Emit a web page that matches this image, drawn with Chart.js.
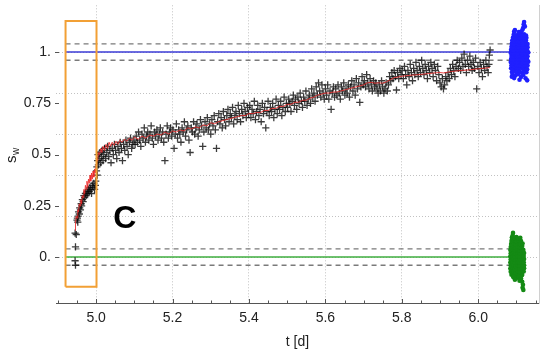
<!DOCTYPE html>
<html><head><meta charset="utf-8">
<script src="https://cdn.jsdelivr.net/npm/chart.js@4.4.1/dist/chart.umd.min.js"></script>
<style>html,body{margin:0;padding:0;background:#fff}#wrap{width:550px;height:354px}</style>
</head><body><div id="wrap"><canvas id="c" width="550" height="354"></canvas></div>
<script>
const xTicks=[5.0,5.2,5.4,5.6,5.8,6.0];
const xTickLabels=['5.0','5.2','5.4','5.6','5.8','6.0'];
const xMinorTicks=[4.9,4.95,5.05,5.1,5.15,5.25,5.3,5.35,5.45,5.5,5.55,5.65,5.7,5.75,5.85,5.9,5.95,6.05,6.1,6.15];
const yTicks=[0,0.25,0.5,0.75,1];
const yTickLabels=['0.','0.25','0.5','0.75','1.'];
const yGrid=[0,0.2,0.4,0.6,0.8,1.0];
const targetLevels=[1,0];
const bandLevels=[1.04,0.96,0.04,-0.04];
const refRange=[4.92,6.083];
const boxCorners=[[4.92,-0.145],[5.001,-0.145],[5.001,1.152],[4.92,1.152],[4.92,-0.145]];
const panelLabel='C';
const panelLabelPos=[5.075,0.143];

const blackPts=[
[4.945,0.117],[4.946,0.05],[4.945,-0.018],[4.946,-0.04],[4.948,0.11],
[4.950,0.18],[4.951,0.19],[4.952,0.17],[4.953,0.2],[4.954,0.22],[4.956,0.21],[4.957,0.24],[4.959,0.23],[4.961,0.26],[4.962,0.25],[4.964,0.28],[4.966,0.27],[4.968,0.30],[4.970,0.29],[4.972,0.31],[4.974,0.30],[4.976,0.32],[4.978,0.31],[4.980,0.33],[4.982,0.32],[4.984,0.34],[4.986,0.33],[4.988,0.31],[4.990,0.35],[4.992,0.34],[4.994,0.36],[4.996,0.33],[4.998,0.35],[4.999,0.37],
[5.001,0.42],[5.002,0.44],[5.003,0.40],[5.004,0.47],[5.005,0.50],[5.006,0.45],[5.008,0.48],[5.010,0.51],[5.012,0.46],[5.014,0.49],[5.016,0.52],[5.018,0.47],[5.020,0.50],[5.022,0.53],[5.025,0.48],[5.028,0.51],[5.030,0.54],[5.033,0.49],[5.036,0.52],[5.039,0.46],[5.042,0.53],[5.045,0.50],[5.048,0.55],[5.051,0.52],[5.054,0.48],[5.057,0.54],[5.060,0.51],[5.063,0.56],[5.066,0.53],[5.069,0.47],[5.072,0.55],[5.075,0.52],[5.078,0.57],[5.081,0.54],[5.084,0.50],[5.087,0.56],[5.090,0.58],[5.093,0.53],[5.096,0.55],[5.099,0.57],
[5.102,0.55],[5.105,0.59],[5.108,0.56],[5.111,0.61],[5.114,0.57],[5.117,0.54],[5.120,0.60],[5.123,0.58],[5.126,0.63],[5.129,0.56],[5.132,0.59],[5.135,0.61],[5.138,0.57],[5.141,0.60],[5.144,0.64],[5.147,0.58],[5.150,0.55],[5.153,0.61],[5.156,0.59],[5.159,0.62],[5.162,0.57],[5.165,0.60],[5.168,0.63],[5.171,0.58],[5.174,0.61],[5.177,0.56],[5.180,0.47],[5.183,0.60],[5.186,0.64],[5.189,0.58],[5.192,0.61],[5.195,0.63],[5.198,0.59],
[5.201,0.62],[5.204,0.53],[5.207,0.60],[5.210,0.65],[5.213,0.58],[5.216,0.62],[5.219,0.60],[5.222,0.56],[5.225,0.63],[5.228,0.61],[5.231,0.66],[5.234,0.59],[5.237,0.62],[5.240,0.64],[5.243,0.57],[5.246,0.51],[5.249,0.63],[5.252,0.61],[5.255,0.66],[5.258,0.60],[5.261,0.63],[5.264,0.65],[5.267,0.59],[5.270,0.62],[5.273,0.67],[5.276,0.64],[5.279,0.54],[5.282,0.61],[5.285,0.66],[5.288,0.63],[5.291,0.68],[5.294,0.62],[5.297,0.65],[5.300,0.60],
[5.303,0.67],[5.306,0.64],[5.309,0.69],[5.312,0.62],[5.315,0.53],[5.318,0.66],[5.321,0.70],[5.324,0.65],[5.327,0.68],[5.330,0.63],[5.333,0.71],[5.336,0.67],[5.339,0.64],[5.342,0.69],[5.345,0.72],[5.348,0.66],[5.351,0.70],[5.354,0.68],[5.357,0.73],[5.360,0.65],[5.363,0.69],[5.366,0.71],[5.369,0.67],[5.372,0.74],[5.375,0.70],[5.378,0.66],[5.381,0.72],[5.384,0.69],[5.387,0.75],[5.390,0.71],[5.393,0.68],[5.396,0.73],[5.399,0.70],
[5.402,0.74],[5.405,0.68],[5.408,0.72],[5.411,0.70],[5.414,0.76],[5.417,0.67],[5.420,0.71],[5.423,0.74],[5.426,0.69],[5.429,0.72],[5.432,0.66],[5.435,0.75],[5.438,0.70],[5.441,0.73],[5.444,0.63],[5.447,0.71],[5.450,0.76],[5.453,0.69],[5.456,0.73],[5.459,0.71],[5.462,0.75],[5.465,0.68],[5.468,0.72],[5.471,0.77],[5.474,0.70],[5.477,0.74],[5.480,0.72],[5.483,0.76],[5.486,0.69],[5.489,0.73],[5.492,0.78],[5.495,0.71],[5.498,0.75],
[5.501,0.73],[5.504,0.77],[5.507,0.75],[5.510,0.71],[5.513,0.76],[5.516,0.79],[5.519,0.74],[5.522,0.77],[5.525,0.72],[5.528,0.78],[5.531,0.75],[5.534,0.80],[5.537,0.76],[5.540,0.73],[5.543,0.78],[5.546,0.76],[5.549,0.81],[5.552,0.74],[5.555,0.77],[5.558,0.79],[5.561,0.75],[5.564,0.82],[5.567,0.78],[5.570,0.80],[5.573,0.76],[5.576,0.83],[5.579,0.79],[5.582,0.85],[5.585,0.81],[5.588,0.78],[5.591,0.84],[5.594,0.80],[5.597,0.77],
[5.600,0.82],[5.603,0.79],[5.606,0.84],[5.609,0.77],[5.612,0.81],[5.615,0.72],[5.618,0.80],[5.621,0.83],[5.624,0.78],[5.627,0.82],[5.630,0.79],[5.633,0.84],[5.636,0.80],[5.639,0.77],[5.642,0.83],[5.645,0.81],[5.648,0.85],[5.651,0.79],[5.654,0.82],[5.657,0.80],[5.660,0.84],[5.663,0.78],[5.666,0.83],[5.669,0.86],[5.672,0.81],[5.675,0.84],[5.678,0.79],[5.681,0.87],[5.684,0.82],[5.687,0.85],[5.690,0.755],[5.693,0.83],[5.696,0.88],[5.699,0.84],
[5.702,0.86],[5.705,0.83],[5.708,0.89],[5.711,0.85],[5.714,0.82],[5.717,0.87],[5.720,0.84],[5.723,0.81],[5.726,0.86],[5.729,0.83],[5.732,0.85],[5.735,0.82],[5.738,0.80],[5.741,0.84],[5.744,0.81],[5.747,0.86],[5.750,0.83],[5.753,0.80],[5.756,0.82],[5.759,0.85],[5.762,0.81],[5.765,0.84],[5.768,0.88],[5.771,0.86],[5.774,0.90],[5.777,0.87],[5.780,0.91],[5.783,0.88],[5.786,0.815],[5.789,0.90],[5.792,0.87],[5.795,0.92],[5.798,0.89],
[5.801,0.91],[5.804,0.87],[5.807,0.93],[5.810,0.89],[5.813,0.84],[5.816,0.91],[5.819,0.88],[5.822,0.94],[5.825,0.90],[5.828,0.86],[5.831,0.92],[5.834,0.89],[5.837,0.95],[5.840,0.91],[5.843,0.88],[5.846,0.93],[5.849,0.90],[5.852,0.96],[5.855,0.92],[5.858,0.89],[5.861,0.94],[5.864,0.91],[5.867,0.87],[5.870,0.93],[5.873,0.90],[5.876,0.95],[5.879,0.92],[5.882,0.88],[5.885,0.94],[5.888,0.91],[5.891,0.86],[5.894,0.93],[5.897,0.89],
[5.900,0.85],[5.903,0.83],[5.906,0.87],[5.909,0.82],[5.912,0.84],[5.915,0.88],[5.918,0.86],[5.921,0.90],[5.924,0.87],[5.927,0.92],[5.930,0.89],[5.933,0.94],[5.936,0.91],[5.939,0.88],[5.942,0.93],[5.945,0.96],[5.948,0.92],
[5.951,0.95],[5.954,0.91],[5.957,0.97],[5.960,0.93],[5.963,0.99],[5.966,0.94],[5.969,0.90],[5.972,0.96],[5.975,0.93],[5.978,0.98],[5.981,0.94],[5.984,0.91],[5.987,0.95],[5.990,0.92],[5.993,0.97],[5.996,0.82],[5.999,0.93],[6.002,0.90],[6.005,0.95],[6.008,0.92],[6.011,0.88],[6.014,0.94],[6.017,0.91],[6.020,0.96],[6.023,0.93],[6.026,0.90],[6.029,0.985],[6.031,1.01],[6.028,0.94]
];

const redPts=[
[4.945,0.13],[4.946,0.17],[4.948,0.2],[4.950,0.19],[4.952,0.23],[4.954,0.22],[4.956,0.26],[4.958,0.25],[4.960,0.28],[4.962,0.26],[4.964,0.30],[4.966,0.29],[4.968,0.33],[4.970,0.31],[4.972,0.35],[4.974,0.33],[4.976,0.37],[4.978,0.34],[4.980,0.38],[4.982,0.36],[4.984,0.40],[4.986,0.37],[4.988,0.41],[4.990,0.38],[4.992,0.42],[4.994,0.39],[4.996,0.43],[4.998,0.41],[5.000,0.45],[5.002,0.48],[5.004,0.47],[5.006,0.51],[5.009,0.50],[5.012,0.53],[5.015,0.51],[5.018,0.54],[5.022,0.52],[5.026,0.55],[5.030,0.53],[5.034,0.56],[5.038,0.54],[5.042,0.56],[5.047,0.545],[5.052,0.565],[5.057,0.55],[5.062,0.57],[5.068,0.56],[5.074,0.575],[5.080,0.565],[5.087,0.58],[5.094,0.57],[5.10,0.585],[5.11,0.575],[5.12,0.59],[5.13,0.58],[5.14,0.595],[5.15,0.59],[5.16,0.60],[5.17,0.595],[5.18,0.61],[5.19,0.60],[5.20,0.615],[5.21,0.61],[5.22,0.62],[5.23,0.615],[5.24,0.63],[5.25,0.625],[5.26,0.635],[5.27,0.63],[5.28,0.645],[5.29,0.64],[5.30,0.655],[5.31,0.65],[5.32,0.66],[5.33,0.665],[5.34,0.67],[5.35,0.675],[5.36,0.68],[5.37,0.685],[5.38,0.69],[5.39,0.69],[5.40,0.70],[5.41,0.70],[5.42,0.705],[5.43,0.705],[5.44,0.715],[5.45,0.715],[5.46,0.725],[5.47,0.725],[5.48,0.735],[5.49,0.735],[5.50,0.745],[5.51,0.745],[5.52,0.755],[5.53,0.755],[5.54,0.765],[5.55,0.765],[5.56,0.775],[5.57,0.78],[5.58,0.79],[5.59,0.795],[5.60,0.80],[5.61,0.80],[5.62,0.805],[5.63,0.805],[5.64,0.81],[5.65,0.815],[5.66,0.82],[5.67,0.825],[5.68,0.83],[5.69,0.835],[5.70,0.84],[5.71,0.85],[5.72,0.852],[5.73,0.848],[5.74,0.85],[5.75,0.848],[5.76,0.855],[5.77,0.865],[5.78,0.875],[5.79,0.878],[5.80,0.882],[5.81,0.884],[5.82,0.886],[5.83,0.888],[5.84,0.889],[5.85,0.891],[5.86,0.893],[5.87,0.895],[5.88,0.897],[5.89,0.899],[5.90,0.90],[5.91,0.898],[5.92,0.902],[5.93,0.905],[5.94,0.907],[5.95,0.909],[5.96,0.911],[5.97,0.912],[5.98,0.914],[5.99,0.916],[6.00,0.918],[6.01,0.92],[6.02,0.922],[6.03,0.924]
];

const bluePts=[
[6.088,0.903],[6.095,0.908],[6.101,0.901],[6.107,0.906],[6.113,0.899],[6.120,0.905],[6.126,0.902],
[6.086,0.921],[6.092,0.917],[6.098,0.923],[6.104,0.919],[6.110,0.924],[6.116,0.918],[6.122,0.922],[6.128,0.916],
[6.087,0.936],[6.093,0.932],[6.099,0.938],[6.105,0.933],[6.111,0.937],[6.117,0.931],[6.123,0.936],[6.129,0.934],
[6.085,0.951],[6.091,0.947],[6.097,0.953],[6.103,0.948],[6.109,0.952],[6.115,0.946],[6.121,0.951],[6.127,0.949],[6.131,0.953],
[6.086,0.966],[6.092,0.962],[6.098,0.968],[6.104,0.963],[6.110,0.967],[6.116,0.961],[6.122,0.966],[6.128,0.964],
[6.087,0.981],[6.093,0.977],[6.099,0.983],[6.105,0.978],[6.111,0.982],[6.117,0.976],[6.123,0.981],[6.129,0.979],
[6.085,0.996],[6.091,0.992],[6.097,0.998],[6.103,0.993],[6.109,0.997],[6.115,0.991],[6.121,0.996],[6.127,0.994],[6.131,0.998],
[6.086,1.011],[6.092,1.007],[6.098,1.013],[6.104,1.008],[6.110,1.012],[6.116,1.006],[6.122,1.011],[6.128,1.009],
[6.087,1.026],[6.093,1.022],[6.099,1.028],[6.105,1.023],[6.111,1.027],[6.117,1.021],[6.123,1.026],[6.129,1.024],
[6.088,1.041],[6.094,1.037],[6.100,1.043],[6.106,1.038],[6.112,1.042],[6.118,1.036],[6.124,1.041],[6.129,1.039],
[6.089,1.056],[6.095,1.052],[6.101,1.058],[6.107,1.053],[6.113,1.057],[6.119,1.051],[6.125,1.056],
[6.091,1.071],[6.097,1.067],[6.103,1.073],[6.109,1.068],[6.115,1.072],[6.121,1.066],[6.126,1.070],
[6.093,1.086],[6.100,1.082],[6.108,1.088],[6.114,1.083],[6.120,1.087],[6.125,1.081],
[6.094,1.10],[6.096,1.107],[6.113,1.10],[6.118,1.12],[6.119,1.135],[6.120,1.146],[6.116,1.11],[6.122,1.125],[6.106,1.097],
[6.090,0.89],[6.097,0.885],[6.104,0.892],[6.112,0.878],[6.118,0.888],[6.124,0.872],[6.128,0.862],[6.094,0.873],[6.108,0.865],[6.088,0.88]
];

const greenPts=[
[6.087,-0.086],[6.094,-0.082],[6.101,-0.088],[6.108,-0.083],[6.115,-0.087],
[6.085,-0.071],[6.091,-0.067],[6.097,-0.073],[6.103,-0.068],[6.109,-0.072],[6.115,-0.066],[6.119,-0.070],
[6.084,-0.056],[6.090,-0.052],[6.096,-0.058],[6.102,-0.053],[6.108,-0.057],[6.114,-0.051],[6.120,-0.055],
[6.085,-0.041],[6.091,-0.037],[6.097,-0.043],[6.103,-0.038],[6.109,-0.042],[6.115,-0.036],[6.120,-0.040],
[6.084,-0.026],[6.090,-0.022],[6.096,-0.028],[6.102,-0.023],[6.108,-0.027],[6.114,-0.021],[6.119,-0.025],
[6.085,-0.011],[6.091,-0.007],[6.097,-0.013],[6.103,-0.008],[6.109,-0.012],[6.115,-0.006],[6.120,-0.010],
[6.084,0.004],[6.090,0.008],[6.096,0.002],[6.102,0.007],[6.108,0.003],[6.114,0.009],[6.119,0.005],
[6.085,0.019],[6.091,0.023],[6.097,0.017],[6.103,0.022],[6.109,0.018],[6.115,0.024],[6.120,0.020],
[6.084,0.034],[6.090,0.038],[6.096,0.032],[6.102,0.037],[6.108,0.033],[6.114,0.039],[6.118,0.035],
[6.085,0.049],[6.091,0.053],[6.097,0.047],[6.103,0.052],[6.109,0.048],[6.115,0.054],
[6.086,0.064],[6.092,0.068],[6.098,0.062],[6.104,0.067],[6.110,0.063],[6.116,0.066],
[6.087,0.079],[6.093,0.083],[6.099,0.077],[6.106,0.082],[6.112,0.078],
[6.088,0.095],[6.090,0.105],[6.091,0.118],[6.095,0.092],[6.100,0.098],[6.104,0.09],[6.110,0.094],
[6.092,-0.098],[6.100,-0.102],[6.106,-0.097],[6.112,-0.104],[6.115,-0.12],[6.117,-0.135],[6.116,-0.15],[6.118,-0.16],[6.096,-0.11],[6.108,-0.115]
];

const P=a=>a.map(p=>({x:p[0],y:p[1]}));
const hseg=y=>[{x:refRange[0],y:y},{x:refRange[1],y:y}];
const FONT='"Liberation Sans", Arial, sans-serif';

const lineDS=(y,color,w,dash,order)=>({data:hseg(y),showLine:true,borderColor:color,borderWidth:w,borderDash:dash,pointRadius:0,order:order,fill:false});

const datasets=[
 {data:P(boxCorners),showLine:true,borderColor:'#f2a035',borderWidth:2,pointRadius:0,order:0,fill:false},
 {data:P(redPts),showLine:true,borderColor:'rgba(235,40,40,0.85)',borderWidth:1,pointRadius:0,order:1,fill:false},
 {data:P(blackPts),showLine:false,pointStyle:'cross',pointRadius:3.6,borderWidth:1.3,borderColor:'rgba(10,10,10,0.8)',order:2},
 {data:P(bluePts),showLine:false,pointStyle:'circle',pointRadius:2.3,borderWidth:0,backgroundColor:'#2020ff',order:3},
 {data:P(greenPts),showLine:false,pointStyle:'circle',pointRadius:2.3,borderWidth:0,backgroundColor:'#148a14',order:3},
 lineDS(targetLevels[0],'#3b3bd6',1.5,[],4),
 lineDS(targetLevels[1],'#3fae3f',1.5,[],4),
 ...bandLevels.map(y=>lineDS(y,'#7a7a7a',1.3,[5,4],5))
];

const extras={
 id:'extras',
 afterDraw(chart){
  const ctx=chart.ctx, xs=chart.scales.x, ys=chart.scales.y, a=chart.chartArea;
  ctx.save();
  ctx.strokeStyle='#555'; ctx.lineWidth=1;
  xTicks.forEach(v=>{const p=Math.round(xs.getPixelForValue(v))+0.5;ctx.beginPath();ctx.moveTo(p,a.bottom);ctx.lineTo(p,a.bottom-4);ctx.stroke();});
  xMinorTicks.forEach(v=>{const p=Math.round(xs.getPixelForValue(v))+0.5;ctx.beginPath();ctx.moveTo(p,a.bottom);ctx.lineTo(p,a.bottom-2.5);ctx.stroke();});
  yTicks.forEach(v=>{const p=Math.round(ys.getPixelForValue(v))+0.5;ctx.beginPath();ctx.moveTo(a.left-1,p);ctx.lineTo(a.left+3,p);ctx.stroke();});
  ctx.fillStyle='#222';
  ctx.translate(16,163); ctx.rotate(-Math.PI/2);
  ctx.font='15px '+FONT; ctx.textBaseline='alphabetic'; ctx.textAlign='left';
  ctx.fillText('s',0,0);
  const sw=ctx.measureText('s').width;
  ctx.font='10px '+FONT; ctx.fillText('w',sw+0.5,3);
  ctx.restore();
  ctx.save();
  ctx.fillStyle='#000'; ctx.font='bold 32px '+FONT; ctx.textAlign='center'; ctx.textBaseline='alphabetic';
  ctx.fillText(panelLabel, xs.getPixelForValue(panelLabelPos[0]), ys.getPixelForValue(panelLabelPos[1]));
  ctx.restore();
 }
};

new Chart(document.getElementById('c'),{
 type:'scatter',
 data:{datasets:datasets},
 options:{
  responsive:false,animation:false,
  layout:{padding:{left:0,right:11,top:5,bottom:0}},
  plugins:{legend:{display:false},tooltip:{enabled:false}},
  scales:{
   x:{type:'linear',position:'bottom',min:4.895,max:6.159,
    afterBuildTicks:s=>{s.ticks=xTicks.map(v=>({value:v}));},
    afterFit:s=>{s.height=51;s.paddingLeft=0;s.paddingRight=0;},
    ticks:{callback:(v,i)=>xTickLabels[i],font:{family:FONT,size:14},color:'#222',padding:7,maxRotation:0,autoSkip:false},
    grid:{color:'#c2c2c2',lineWidth:1,drawTicks:false},
    border:{display:true,color:'#555',width:1,dash:[1,2]},
    title:{display:true,text:'t [d]',font:{family:FONT,size:14},color:'#222',padding:{top:0,bottom:3}}
   },
   y:{type:'linear',position:'left',min:-0.224,max:1.228,
    afterBuildTicks:s=>{s.ticks=yTicks.map(v=>({value:v}));},
    afterFit:s=>{s.width=56;s.paddingTop=0;s.paddingBottom=0;},
    ticks:{callback:(v,i)=>yTickLabels[i],font:{family:FONT,size:14},color:'#222',padding:5,autoSkip:false},
    grid:{display:false,drawTicks:false},
    border:{display:false}
   },
   yg:{type:'linear',position:'right',min:-0.224,max:1.228,
    afterBuildTicks:s=>{s.ticks=yGrid.map(v=>({value:v}));},
    afterFit:s=>{s.width=0;s.paddingTop=0;s.paddingBottom=0;},
    ticks:{display:false},
    grid:{color:'#c2c2c2',lineWidth:1,drawTicks:false},
    border:{display:true,color:'#d0d0d0',width:1,dash:[1,2]}
   }
  }
 },
 plugins:[extras]
});
</script>
</body></html>
